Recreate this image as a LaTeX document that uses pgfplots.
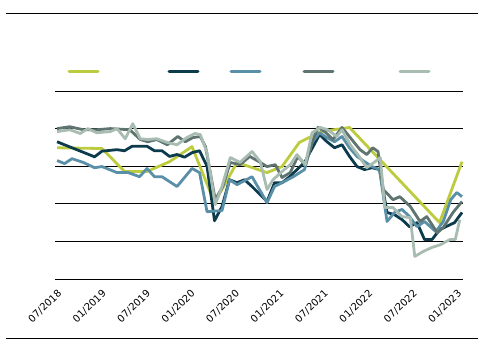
\documentclass[border=0pt]{standalone}
\usepackage{fontspec}
\setmainfont{DejaVu Sans}
\usepackage{pgfplots}
\pgfplotsset{compat=1.18}
\definecolor{cgreen}{RGB}{188,204,62}
\definecolor{cnavy}{RGB}{13,59,78}
\definecolor{cblue}{RGB}{90,143,168}
\definecolor{cdgray}{RGB}{95,116,112}
\definecolor{clgray}{RGB}{169,188,178}
\begin{document}
\begin{tikzpicture}
\begin{axis}[
  at={(55bp,75bp)}, anchor=south west,
  scale only axis, width=408bp, height=188bp,
  xmin=-0.27, xmax=54.13, ymin=60, ymax=110,
  axis line style={draw=none},
  ytick={60,70,80,90,110}, yticklabels={},
  extra y ticks={100}, extra y tick labels={},
  extra y tick style={grid style={black, line width=2.2bp}},
  ymajorgrids, major grid style={black, line width=0.9bp},
  xtick={0.8,6.726,12.652,18.578,24.504,30.43,36.356,42.282,48.208,54.13},
  xticklabels={07/2018,01/2019,07/2019,01/2020,07/2020,01/2021,07/2021,01/2022,07/2022,01/2023},
  major tick length=0pt, tick style={draw=none},
  xticklabel style={font=\fontsize{10}{11}\selectfont, xshift=-6bp, yshift=-9bp, rotate=44, anchor=north east, inner sep=0.5pt},
  clip=false,
  every axis plot/.append style={line width=2.8bp, line join=round, mark=none},
]
\addplot[cgreen] coordinates {(0,94.9)(6,94.7)(9,88.6)(12,88.6)(15,91.2)(18,95.2)(21,80.3)(24,91)(28,88.3)(30,89.9)(32.3,96.3)(35.2,99.2)(39,100.3)(51,75)(54,91.2)};
\addplot[cnavy] coordinates {(0,96.5)(5,92.5)(6,94.0)(8,94.4)(9,94.1)(10,95.3)(12,95.3)(13,94.1)(14,94.1)(15,92.6)(16,93.1)(17,92.4)(18,93.6)(19,94.1)(20,90.0)(21,75.5)(22,79.3)(23,86.4)(24,85.6)(25,86.4)(26,84.6)(28,80.6)(29,85.6)(30,85.6)(31,87.2)(32,89.1)(33,91.0)(35,98.4)(36,96.5)(37,94.9)(38,95.7)(39,92.6)(40,89.9)(41,89.1)(42,89.6)(43,89.1)(44,77.7)(45,77.1)(46,75.8)(47,73.9)(48,75.0)(49,70.5)(50,70.5)(51,73.1)(53,75.0)(54,77.7)};
\addplot[cblue] coordinates {(0,91.5)(1,90.7)(2,92.0)(3.5,91.0)(5,89.6)(6,89.9)(8,88.3)(9.5,88.3)(11,87.2)(12,89.4)(13,87.2)(14,87.2)(16,84.6)(18,89.4)(19,88.3)(20,77.9)(22,78.2)(23,86.4)(24,85.1)(26,87.2)(28,80.3)(29,84.6)(30,85.6)(31.5,87.2)(33,89.1)(34,96.3)(35,98.9)(36,97.6)(37,96.5)(38,97.9)(39,94.9)(40,92.6)(41,91.2)(42,89.9)(43,89.1)(44,75.3)(45,77.7)(46,78.5)(47,76.6)(48,73.9)(49,75.3)(50.5,72.6)(51.5,75.3)(52.5,81.1)(53.3,83.0)(54,81.9)};
\addplot[cdgray] coordinates {(0,100)(1.7,100.5)(3.5,99.7)(5.3,99.7)(7.1,100)(9.7,99.7)(11.1,97.1)(12.1,96.5)(13.3,97.1)(14.7,95.7)(16.1,97.9)(17.1,96.5)(18.1,97.6)(19.1,97.9)(19.8,95.2)(21.1,81.1)(22.1,84.6)(23.1,91.0)(24.4,90.4)(25.7,92.6)(27.1,91.0)(28,89.9)(29.1,90.4)(30,87.0)(31.1,88.3)(32.1,92.6)(33.1,90.4)(34,96.3)(34.8,100.3)(35.7,99.2)(36.8,97.1)(38,100.3)(39.3,97.1)(40.4,94.4)(41.3,93.1)(42.1,94.9)(42.8,93.9)(43.5,83.8)(44.8,81.1)(45.7,81.9)(47.1,79.3)(48.4,75.3)(49.3,76.6)(50.7,72.3)(51.5,73.7)(52.8,77.7)(54,80.6)};
\addplot[clgray] coordinates {(0,99.2)(1.7,99.7)(3.1,98.7)(4.1,100)(5.3,98.9)(7.1,99.2)(8,100)(9.1,97.3)(10.1,101.3)(11.1,97.3)(12.1,97.1)(13.3,97.3)(14.7,96.3)(16,95.7)(17.3,97.6)(18.4,98.7)(19.1,98.4)(20,93.6)(21.1,79.8)(22,84.6)(23.1,92.3)(24.4,91.0)(26,93.9)(27.1,91.2)(28,83.8)(28.8,86.4)(30,88.6)(31.1,90.4)(32,93.1)(33.1,90.4)(34,98.9)(35.1,100.3)(36.1,99.7)(37.3,97.9)(38,99.7)(39.1,95.7)(40.1,93.1)(41.3,89.6)(42.4,91.2)(43.1,92.3)(43.7,79.0)(44.8,79.0)(46,76.6)(47.1,76.3)(47.7,66.0)(48.8,67.3)(50,68.4)(51.1,69.1)(52.4,70.5)(53.1,70.5)(53.7,75.8)};
\end{axis}
\draw[line width=1bp] (6bp,340bp) -- (478bp,340bp);
\draw[line width=1bp] (6bp,15bp) -- (478bp,15bp);
\foreach \xa/\c in {69/cgreen,169/cnavy,231/cblue,304/cdgray,400/clgray}{
  \draw[\c, line width=3bp, line cap=round] (\xa bp,282bp) -- ++(29bp,0);
}
\pgfresetboundingbox
\useasboundingbox (0,0) rectangle (480bp,354bp);
\end{tikzpicture}
\end{document}
